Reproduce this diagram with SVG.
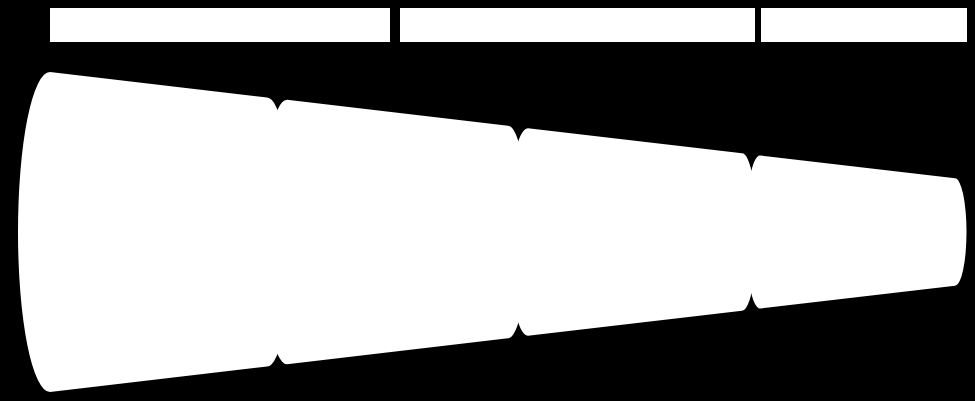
<svg xmlns="http://www.w3.org/2000/svg" width="975" height="401" viewBox="0 0 975 401">
<style>
.bar{fill:#ffffff;}
.seg{fill:#ffffff;}
</style>
<rect x="0" y="0" width="975" height="401" fill="#000000"/>
<g id="header-1"><rect class="bar" x="50" y="8" width="340" height="34"/></g>
<g id="header-2"><rect class="bar" x="400" y="8" width="355" height="34"/></g>
<g id="header-3"><rect class="bar" x="761" y="8" width="206" height="34"/></g>
<g id="stage-1"><path class="seg" d="M50 72 L267 97.5 A25 134.5 0 0 1 267 366.5 L50 392 A32 160 0 0 1 50 72 Z"/></g>
<g id="stage-2"><path class="seg" d="M287 99.8 L508 125.8 A20 106.2 0 0 1 508 338.2 L287 364.2 A25 132.2 0 0 1 287 99.8 Z"/></g>
<g id="stage-3"><path class="seg" d="M528 128.2 L742 153.3 A15 78.7 0 0 1 742 310.7 L528 335.8 A20 103.8 0 0 1 528 128.2 Z"/></g>
<g id="stage-4"><path class="seg" d="M760 155.4 L955 178.3 A11.5 53.7 0 0 1 955 285.7 L760 308.6 A14.5 76.6 0 0 1 760 155.4 Z"/></g>
<g id="connectors"></g>
</svg>
